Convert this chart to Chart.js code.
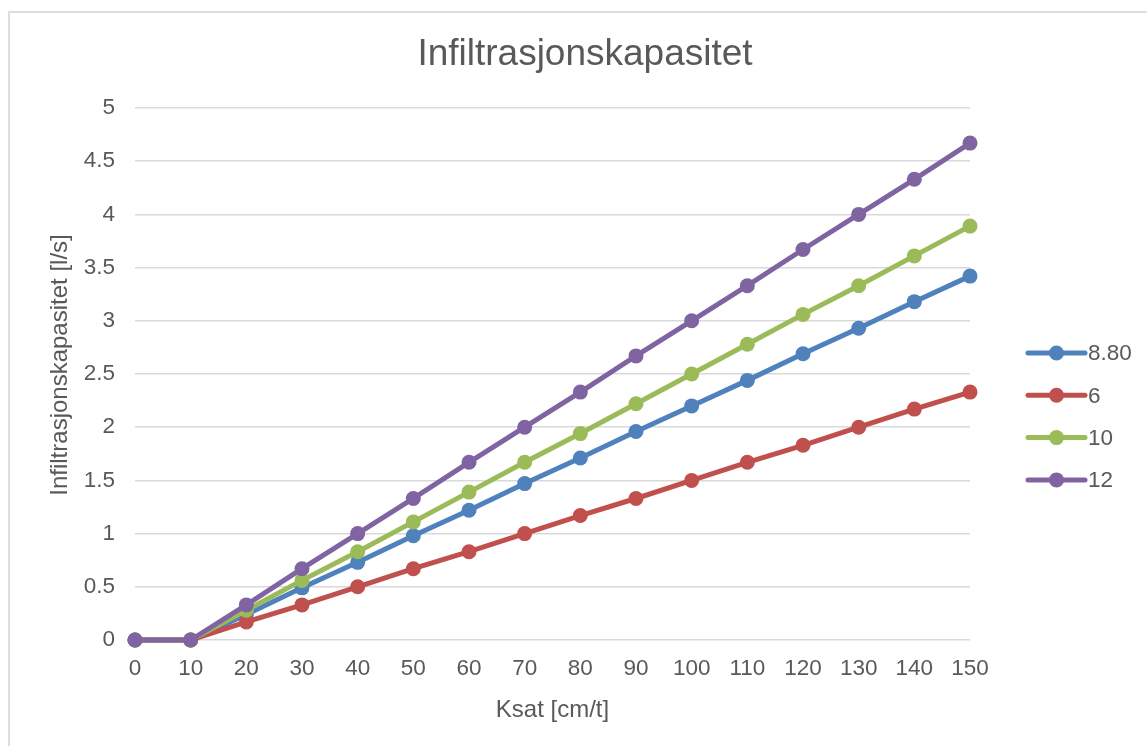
<!DOCTYPE html>
<html>
<head>
<meta charset="utf-8">
<script src="https://cdn.jsdelivr.net/npm/chart.js@4/dist/chart.umd.min.js"></script>
<style>
  html, body { margin: 0; padding: 0; background: #ffffff; overflow: hidden; width: 1147px; height: 746px; }
  #frame { position: absolute; left: 8px; top: 11px; width: 1200px; height: 800px; border: 2px solid #dedede; box-sizing: border-box; }
  #c { position: absolute; left: 9px; top: 12px; }
</style>
</head>
<body>
<div id="frame"></div>
<canvas id="c" width="1152" height="735"></canvas>
<script>
// Categories (x axis: Ksat [cm/t])
const categories = ['0','10','20','30','40','50','60','70','80','90','100','110','120','130','140','150'];
// Series names
const seriesNames = ['8.80', '6', '10', '12'];
// Series values (Infiltrasjonskapasitet [l/s])
const series880 = [0, 0, 0.24, 0.49, 0.73, 0.98, 1.22, 1.47, 1.71, 1.96, 2.20, 2.44, 2.69, 2.93, 3.18, 3.42];
const series6   = [0, 0, 0.17, 0.33, 0.50, 0.67, 0.83, 1.00, 1.17, 1.33, 1.50, 1.67, 1.83, 2.00, 2.17, 2.33];
const series10  = [0, 0, 0.28, 0.56, 0.83, 1.11, 1.39, 1.67, 1.94, 2.22, 2.50, 2.78, 3.06, 3.33, 3.61, 3.89];
const series12  = [0, 0, 0.33, 0.67, 1.00, 1.33, 1.67, 2.00, 2.33, 2.67, 3.00, 3.33, 3.67, 4.00, 4.33, 4.67];
// Y tick labels
const yTickLabels = ['0', '0.5', '1', '1.5', '2', '2.5', '3', '3.5', '4', '4.5', '5'];
const seriesColors = ['#4F81BD', '#C0504D', '#9BBB59', '#8064A2'];
const allSeries = [series880, series6, series10, series12];

const FONT = "'Liberation Sans', Arial, sans-serif";
const TEXT = '#595959';
const Y_TITLE = 'Infiltrasjonskapasitet [l/s]';

const datasets = allSeries.map((vals, i) => ({
  label: seriesNames[i],
  data: vals,
  borderColor: seriesColors[i],
  backgroundColor: seriesColors[i],
  pointBackgroundColor: seriesColors[i],
  pointBorderColor: seriesColors[i],
  borderWidth: 5,
  pointRadius: 7.5,
  pointHoverRadius: 7.5,
  pointBorderWidth: 0,
  tension: 0,
  clip: false,
  yAxisID: 'y',
  order: allSeries.length - i
}));

const sidePlugin = {
  id: 'sideLegend',
  afterDraw(chart) {
    const ctx = chart.ctx;
    const ca = chart.chartArea;
    const mid = (ca.top + ca.bottom) / 2;
    const step = 42.3;
    ctx.save();
    // legend
    chart.data.datasets.forEach((ds, i) => {
      const y = mid - 21 + i * step;
      const x0 = ca.right + 58, x1 = ca.right + 115;
      ctx.strokeStyle = ds.borderColor;
      ctx.lineWidth = 5;
      ctx.lineCap = 'round';
      ctx.beginPath(); ctx.moveTo(x0, y); ctx.lineTo(x1, y); ctx.stroke();
      ctx.fillStyle = ds.borderColor;
      ctx.beginPath(); ctx.arc((x0 + x1) / 2, y, 7.5, 0, Math.PI * 2); ctx.fill();
      ctx.fillStyle = TEXT;
      ctx.font = '22.5px ' + FONT;
      ctx.textAlign = 'left';
      ctx.textBaseline = 'middle';
      ctx.fillText(ds.label, x1 + 3, y + 1);
    });
    // y-axis title
    ctx.translate(51, mid - 9);
    ctx.rotate(-Math.PI / 2);
    ctx.fillStyle = TEXT;
    ctx.font = '24px ' + FONT;
    ctx.textAlign = 'center';
    ctx.textBaseline = 'middle';
    ctx.fillText(Y_TITLE, 0, 0);
    ctx.restore();
  }
};

new Chart(document.getElementById('c'), {
  type: 'line',
  data: { labels: categories, datasets },
  options: {
    responsive: false,
    animation: false,
    events: [],
    layout: { padding: 0 },
    plugins: {
      legend: { display: false },
      tooltip: { enabled: false },
      title: {
        display: true,
        text: 'Infiltrasjonskapasitet',
        color: TEXT,
        font: { family: FONT, size: 37, weight: 'normal', lineHeight: 1.2 },
        padding: { top: 21, bottom: 30.6 }
      }
    },
    scales: {
      x: {
        offset: false,
        grid: { display: false, drawTicks: false },
        border: { display: false },
        ticks: { color: TEXT, font: { family: FONT, size: 22.5 }, padding: 15, maxRotation: 0, autoSkip: false },
        title: { display: true, text: 'Ksat [cm/t]', color: TEXT, font: { family: FONT, size: 24, lineHeight: 1.2 }, padding: { top: 22, bottom: 22 } },
        afterFit(scale) { scale.height = 107; }
      },
      y: {
        position: 'left',
        min: 0,
        max: 5,
        grid: { color: '#d9d9d9', lineWidth: 1.5, drawTicks: false },
        border: { display: false },
        ticks: {
          stepSize: 0.5,
          color: TEXT,
          font: { family: FONT, size: 22.5 },
          padding: 20,
          callback: (value, index) => yTickLabels[index]
        },
        title: { display: false },
        afterFit(scale) { scale.width = 126; }
      },
      legendSpace: {
        type: 'linear',
        position: 'right',
        display: true,
        grid: { display: false, drawTicks: false },
        border: { display: false },
        ticks: { display: false },
        afterFit(scale) { scale.width = 191; }
      }
    }
  },
  plugins: [sidePlugin]
});
</script>
</body>
</html>
